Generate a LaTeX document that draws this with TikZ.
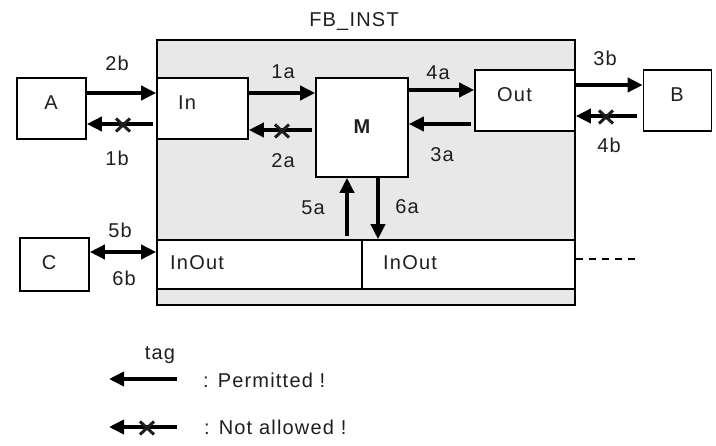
\documentclass[tikz,border=0pt]{standalone}
\usepackage{fontspec}
\setmainfont[LetterSpace=6]{Liberation Sans}
\usetikzlibrary{arrows.meta,shapes.misc}
\definecolor{fbgrey}{HTML}{E8E8E8}
\definecolor{txtc}{HTML}{1E1E1E}
\begin{document}
\begin{tikzpicture}[x=1pt,y=-1pt,
  box/.style={draw=black,line width=1.6pt,fill=white,inner sep=0pt,rectangle},
  txt/.style={inner sep=0pt,text=txtc,font=\fontsize{20}{23}\selectfont},
  arr/.style={line width=3.6pt,-{Triangle[length=15pt,width=14pt]}},
  darr/.style={line width=3.6pt,{Triangle[length=15pt,width=14pt]}-{Triangle[length=15pt,width=14pt]}},
  xm/.style={cross out,draw=txtc,line width=3pt,minimum width=11pt,minimum height=10pt,inner sep=0pt}]
\useasboundingbox (0,0) rectangle (716,446);
% outer instance
\node[box,fill=fbgrey,minimum width=418pt,minimum height=265pt] (FB) at (366,172.5) {};
\node[txt] (fbl) at (354,22) {FB\_INST};
% boxes
\node[box,minimum width=69pt,minimum height=61pt] (A) at (51.5,108.5) {};
\node[box,minimum width=91pt,minimum height=61pt] (In) at (202.5,108.5) {};
\node[box,minimum width=92pt,minimum height=99pt] (M) at (362,127.5) {};
\node[box,minimum width=100pt,minimum height=61pt] (Out) at (525,100.5) {};
\node[box,minimum width=68pt,minimum height=61pt] (B) at (677.5,100.5) {};
\node[box,minimum width=69pt,minimum height=53pt] (C) at (54.5,264.5) {};
\node[box,minimum width=205pt,minimum height=49pt] (IO1) at (259.5,264.5) {};
\node[box,minimum width=213pt,minimum height=49pt] (IO2) at (468.5,264.5) {};
% box texts
\node[txt] (At) at (51,103) {A};
\node[txt,anchor=west] (Int) at (178,103) {In};
\node[txt,font=\fontsize{20}{23}\selectfont\bfseries] (Mt) at (362,127) {M};
\node[txt,anchor=west] (Outt) at (497,95) {Out};
\node[txt] (Bt) at (677,95) {B};
\node[txt] (Ct) at (49,263) {C};
\node[txt,anchor=west] (IO1t) at (170,263) {InOut};
\node[txt,anchor=west] (IO2t) at (383,263) {InOut};
% connectors
\draw[arr] ([yshift=15.5pt]A.east) -- ([yshift=15.5pt]In.west);
\draw[arr] ([xshift=-3pt,yshift=-15.5pt]In.west) -- ([yshift=-15.5pt]A.east);
\draw[arr] ([yshift=15.5pt]In.east) -- ([yshift=34.5pt]M.west);
\draw[arr] ([xshift=-3pt,yshift=-2.5pt]M.west) -- ([yshift=-21.5pt]In.east);
\draw[arr] ([yshift=37.5pt]M.east) -- ([yshift=10.5pt]Out.west);
\draw[arr] ([xshift=-3pt,yshift=-23.5pt]Out.west) -- ([yshift=3.5pt]M.east);
\draw[arr] ([yshift=15.5pt]Out.east) -- ([yshift=15.5pt]B.west);
\draw[arr] ([xshift=-6pt,yshift=-15.5pt]B.west) -- ([yshift=-15.5pt]Out.east);
\draw[arr] ([xshift=87.5pt,yshift=3pt]IO1.north) -- ([xshift=-15pt]M.south);
\draw[arr] ([xshift=16pt]M.south) -- ([xshift=-90.5pt]IO2.north);
\draw[darr] ([yshift=12.5pt]C.east) -- ([yshift=12.5pt]IO1.west);
\coordinate (dashend) at (638,259);
\draw[line width=1.3pt,dash pattern=on 7pt off 6pt] ([yshift=5.5pt]IO2.east) -- (dashend);
% not-allowed marks
\node[xm] (x1) at (123,125) {};
\node[xm] (x2) at (282,131) {};
\node[xm] (x3) at (606,117) {};
% connector labels
\node[txt] (l2b) at (117,63) {2b};
\node[txt] (l1b) at (117,158) {1b};
\node[txt] (l1a) at (283,72) {1a};
\node[txt] (l2a) at (283,161) {2a};
\node[txt] (l4a) at (438,73) {4a};
\node[txt] (l3a) at (442,155) {3a};
\node[txt] (l3b) at (605,58) {3b};
\node[txt] (l4b) at (609,145) {4b};
\node[txt] (l5a) at (313,208) {5a};
\node[txt] (l6a) at (407,207) {6a};
\node[txt] (l5b) at (120,230) {5b};
\node[txt] (l6b) at (124,278) {6b};
% legend
\node[txt] (tag) at (160,355) {tag};
\coordinate (p1s) at (177,379);
\coordinate (p1e) at (109,379);
\coordinate (p2s) at (177,427);
\coordinate (p2e) at (109,427);
\draw[arr] (p1s) -- (p1e);
\draw[arr] (p2s) -- (p2e);
\node[xm] (x4) at (147,428) {};
\node[txt,anchor=west] (perm) at (203,380) {: Permitted !};
\node[txt,anchor=west] (nall) at (204,427) {: Not allowed !};
\end{tikzpicture}
\end{document}
